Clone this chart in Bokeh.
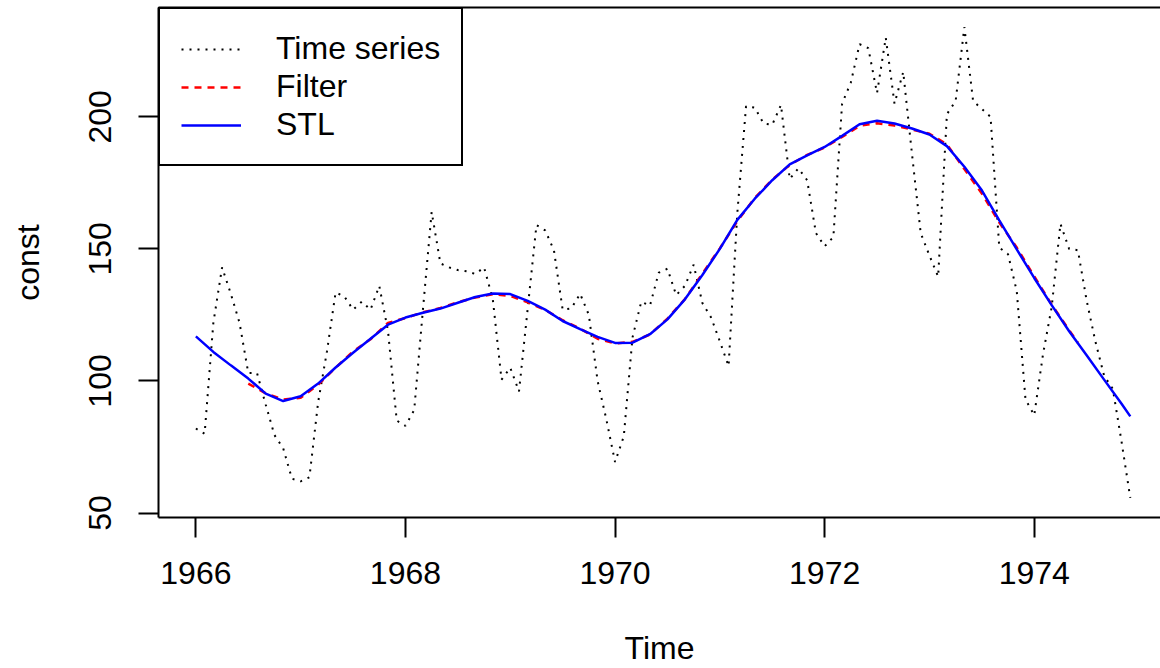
import numpy as np
from bokeh.plotting import figure
from bokeh.models import Range1d, FixedTicker, LinearAxis, Legend, LegendItem
from bokeh.embed import file_html
from bokeh.resources import INLINE

# Monthly series, January 1966 to December 1974
START_YEAR = 1966
FREQ = 12

series = [
    82, 80, 122, 143, 133, 122, 103, 103, 91, 79.5, 74.5, 63,          # 1966
    62, 63.5, 92, 111, 133.5, 132, 127, 130, 127, 136, 119, 85,        # 1967
    83, 89, 127, 164, 144.5, 143, 142, 141.5, 140.5, 143, 131, 100.5,  # 1968
    105, 96, 127.5, 159, 157, 149.5, 127, 127.5, 133, 125, 100, 85.5,  # 1969
    69.3, 79, 116.5, 130, 128.5, 141, 142.5, 132.5, 136, 144, 129.5, 124,  # 1970
    115, 105.6, 163.5, 204, 203.5, 197.5, 197, 204.5, 176.5, 180.5, 176, 156,  # 1971
    151, 154.5, 205, 213, 227.5, 226, 209, 230, 205, 217, 186, 156,    # 1972
    147.5, 139.5, 201, 206, 234, 206, 203, 200, 150.5, 148, 134, 93,   # 1973
    87, 110, 128, 159.5, 150, 149.5, 130.5, 115, 102, 97, 77, 55.7,    # 1974
]

# STL trend component (month index from start, value)
stl_months = list(range(0, 107, 2)) + [107]
stl_trend = [
    116.9, 111.0, 105.9, 100.9, 95.2, 92.4, 94.2, 99.0, 105.1, 110.7,
    116.0, 121.3, 124.0, 125.8, 127.4, 129.6, 131.8, 133.1, 132.9, 130.3,
    127.0, 122.7, 119.6, 116.7, 114.4, 114.5, 117.7, 123.3, 130.9, 140.1,
    150.0, 161.0, 169.0, 176.0, 182.0, 185.4, 188.6, 192.8, 197.2, 198.5,
    197.5, 195.6, 193.3, 188.9, 181.1, 172.2, 160.8, 149.8, 139.0, 128.7,
    118.8, 109.7, 100.5, 91.4, 86.6,
]

# Centred moving-average filter (undefined for the first and last six months)
filter_months = list(range(6, 101, 2)) + [101]
filter_trend = [
    99.0, 95.3, 93.0, 93.6, 98.6, 105.0, 111.2, 115.8, 122.0, 123.8,
    126.0, 127.6, 129.8, 131.6, 132.8, 132.2, 129.8, 126.9, 123.0, 119.8,
    116.0, 114.2, 114.8, 117.6, 123.6, 131.0, 140.6, 150.2, 160.5, 169.3,
    176.2, 181.8, 185.6, 188.4, 192.4, 196.6, 197.6, 196.7, 195.2, 193.6,
    189.6, 180.2, 171.0, 160.0, 150.5, 139.6, 128.9, 119.2, 114.5,
]

x_ticks = [1966, 1968, 1970, 1972, 1974]
y_ticks = [50, 100, 150, 200]

t_series = START_YEAR + np.arange(len(series)) / FREQ
t_stl = START_YEAR + np.array(stl_months) / FREQ
t_filter = START_YEAR + np.array(filter_months) / FREQ

FONT = "Liberation Sans"
FS = "32px"

p = figure(
    width=1160, height=668,
    output_backend="svg", toolbar_location=None,
    x_range=Range1d(1965.6433, 1975.205),
    y_range=Range1d(48.3, 241.4),
    min_border_left=158, min_border_right=0,
    min_border_top=7, min_border_bottom=150,
    x_axis_label="Time", y_axis_label="const",
)
p.grid.visible = False
p.outline_line_color = None
p.background_fill_color = "white"
p.border_fill_color = "white"

r_ts = p.line(t_series, series, line_color="black", line_width=2, line_dash="2 6")
r_f = p.line(t_filter, filter_trend, line_color="#FF0000", line_width=2.5, line_dash="7 6")
r_s = p.line(t_stl, stl_trend, line_color="#0000FF", line_width=2.5)

for ax, ticks in ((p.xaxis[0], x_ticks), (p.yaxis[0], y_ticks)):
    ax.ticker = FixedTicker(ticks=ticks)
    ax.minor_tick_line_color = None
    ax.major_tick_out = 20
    ax.major_tick_in = 0
    ax.major_tick_line_width = 2
    ax.major_tick_line_color = "black"
    ax.axis_line_width = 2
    ax.axis_line_color = "black"
    ax.major_label_text_font = FONT
    ax.major_label_text_font_size = FS
    ax.major_label_text_color = "black"
    ax.axis_label_text_font = FONT
    ax.axis_label_text_font_size = FS
    ax.axis_label_text_font_style = "normal"
    ax.axis_label_text_color = "black"

p.xaxis[0].major_label_standoff = 24
p.xaxis[0].axis_label_standoff = 43
p.yaxis[0].major_label_orientation = "vertical"
p.yaxis[0].major_label_standoff = 27
p.yaxis[0].axis_label_standoff = 41

# top edge of the plot box
top = LinearAxis(
    ticker=FixedTicker(ticks=[]),
    major_tick_out=0, major_tick_in=0,
    minor_tick_out=0, minor_tick_in=0,
    major_label_text_font_size="0px", major_label_standoff=0,
    axis_line_width=2, axis_line_color="black",
)
p.add_layout(top, "above")

legend = Legend(
    items=[
        LegendItem(label="Time series", renderers=[r_ts]),
        LegendItem(label="Filter", renderers=[r_f]),
        LegendItem(label="STL", renderers=[r_s]),
    ],
    location="top_left", margin=0, padding=21, spacing=1,
    border_line_color="black", border_line_width=2, border_line_alpha=1,
    background_fill_color="white", background_fill_alpha=1,
    label_text_font=FONT, label_text_font_size=FS, label_text_color="black",
    glyph_width=60, glyph_height=20, label_height=20,
    label_standoff=35,
)
p.add_layout(legend)

open("out.html", "w").write(file_html(p, INLINE))
